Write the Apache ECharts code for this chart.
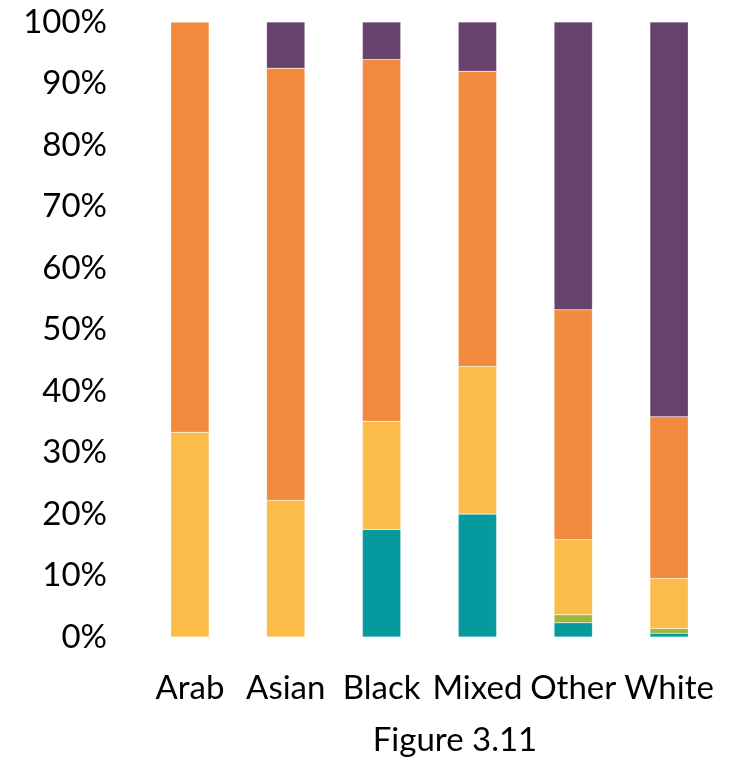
<!DOCTYPE html>
<html><head><meta charset="utf-8">
<script src="https://cdn.jsdelivr.net/npm/echarts@6/dist/echarts.min.js"></script>
<style>html,body{margin:0;padding:0;background:#fff}#c{width:740px;height:757px}</style>
</head><body><div id="c"></div>
<script>
const categories = ['Arab', 'Asian', 'Black', 'Mixed', 'Other', 'White'];
const tealVals   = [0, 0, 17.5, 20, 2.3, 0.6];
const greenVals  = [0, 0, 0, 0, 1.3, 0.8];
const yellowVals = [33.3, 22.2, 17.6, 24, 12.2, 8.1];
const orangeVals = [66.7, 70.3, 58.8, 48, 37.4, 26.3];
const purpleVals = [0, 7.5, 6.1, 8, 46.8, 64.2];
const figureTitle = 'Figure 3.11';

const FONT = 'Lato';
const chart = echarts.init(document.getElementById('c'));
function s(name, data, color) {
  return { name, type: 'bar', stack: 'all', data, barCategoryGap: '60%',
    itemStyle: { color, borderColor: 'rgba(255,255,255,0.4)', borderWidth: 0.5 } };
}
chart.setOption({
  animation: false,
  title: { text: figureTitle, left: 450, top: 719, textAlign: 'center',
    textStyle: { fontFamily: FONT, fontSize: 33, fontWeight: 'normal', color: '#000' } },
  grid: { left: 142, right: 23, top: 22, bottom: 120 },
  xAxis: { type: 'category', data: categories,
    axisLine: { show: false }, axisTick: { show: false },
    axisLabel: { color: '#000', fontFamily: FONT, fontSize: 33, margin: 35, interval: 0 } },
  yAxis: { type: 'value', min: 0, max: 100, interval: 10,
    axisLine: { show: false }, axisTick: { show: false }, splitLine: { show: false },
    axisLabel: { formatter: '{value}%', color: '#000', fontFamily: FONT, fontSize: 33, margin: 35 } },
  series: [
    s('Teal', tealVals, '#069A9E'),
    s('Green', greenVals, '#9BB83D'),
    s('Yellow', yellowVals, '#FBBC4A'),
    s('Orange', orangeVals, '#F28A3D'),
    s('Purple', purpleVals, '#66426C')
  ]
});
</script></body></html>
